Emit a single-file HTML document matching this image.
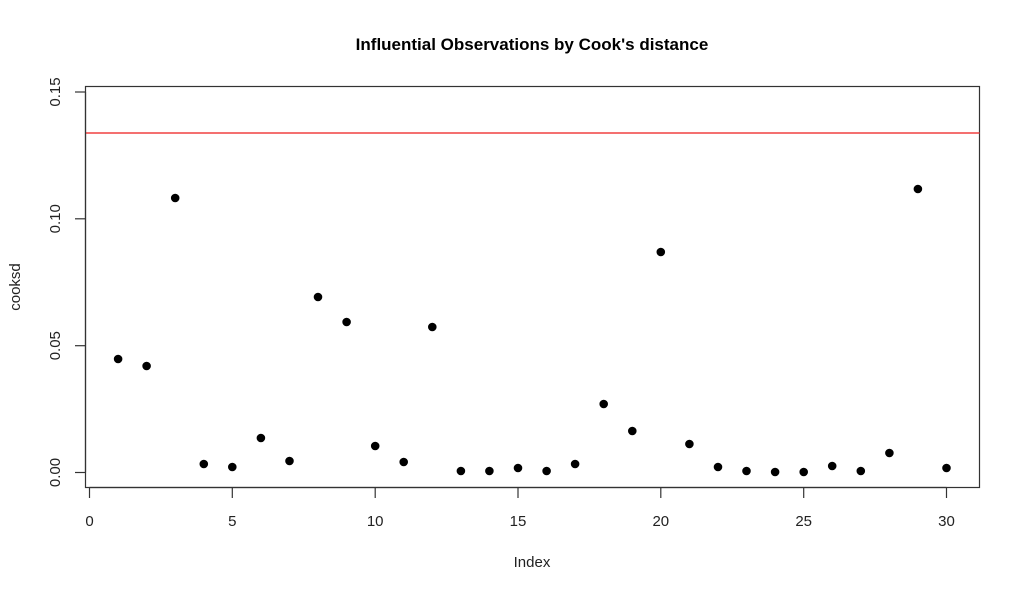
<!DOCTYPE html>
<html><head><meta charset="utf-8"><style>body{margin:0;background:#fff}</style></head><body>
<svg width="1024" height="594" xmlns="http://www.w3.org/2000/svg" font-family="Liberation Sans, sans-serif">
<rect width="1024" height="594" fill="#fff"/>
<text x="532" y="50" text-anchor="middle" font-size="17" font-weight="bold">Influential Observations by Cook's distance</text>
<rect x="85.5" y="86.5" width="894" height="401" fill="none" stroke="#333" stroke-width="1.2"/>
<line x1="85.5" y1="133" x2="979.5" y2="133" stroke="#f04040" stroke-width="1.5"/>
<g stroke="#333" stroke-width="1.2">
<line x1="89.5" y1="487.5" x2="946.5" y2="487.5"/>
<line x1="89.5" y1="487.5" x2="89.5" y2="498"/><line x1="232.3" y1="487.5" x2="232.3" y2="498"/><line x1="375.2" y1="487.5" x2="375.2" y2="498"/><line x1="518" y1="487.5" x2="518" y2="498"/><line x1="660.8" y1="487.5" x2="660.8" y2="498"/><line x1="803.7" y1="487.5" x2="803.7" y2="498"/><line x1="946.5" y1="487.5" x2="946.5" y2="498"/>
<line x1="85.5" y1="92" x2="85.5" y2="472.5"/>
<line x1="75" y1="472.5" x2="85.5" y2="472.5"/><line x1="75" y1="345.7" x2="85.5" y2="345.7"/><line x1="75" y1="218.8" x2="85.5" y2="218.8"/><line x1="75" y1="92" x2="85.5" y2="92"/>
</g>
<g font-size="15" text-anchor="middle" fill="#222">
<text x="89.5" y="526">0</text><text x="232.3" y="526">5</text><text x="375.2" y="526">10</text><text x="518" y="526">15</text><text x="660.8" y="526">20</text><text x="803.7" y="526">25</text><text x="946.5" y="526">30</text>
<text x="532" y="567">Index</text>
<text transform="translate(60,472.5) rotate(-90)">0.00</text>
<text transform="translate(60,345.7) rotate(-90)">0.05</text>
<text transform="translate(60,218.8) rotate(-90)">0.10</text>
<text transform="translate(60,92) rotate(-90)">0.15</text>
<text transform="translate(20,287) rotate(-90)">cooksd</text>
</g>
<g fill="#000">
<circle cx="118.1" cy="359" r="4.3"/><circle cx="146.6" cy="366" r="4.3"/><circle cx="175.2" cy="198" r="4.3"/><circle cx="203.8" cy="464" r="4.3"/><circle cx="232.3" cy="467" r="4.3"/><circle cx="260.9" cy="438" r="4.3"/><circle cx="289.5" cy="461" r="4.3"/><circle cx="318" cy="297" r="4.3"/><circle cx="346.6" cy="322" r="4.3"/><circle cx="375.2" cy="446" r="4.3"/><circle cx="403.7" cy="462" r="4.3"/><circle cx="432.3" cy="327" r="4.3"/><circle cx="460.9" cy="471" r="4.3"/><circle cx="489.4" cy="471" r="4.3"/><circle cx="518" cy="468" r="4.3"/><circle cx="546.6" cy="471" r="4.3"/><circle cx="575.1" cy="464" r="4.3"/><circle cx="603.7" cy="404" r="4.3"/><circle cx="632.3" cy="431" r="4.3"/><circle cx="660.8" cy="252" r="4.3"/><circle cx="689.4" cy="444" r="4.3"/><circle cx="718" cy="467" r="4.3"/><circle cx="746.5" cy="471" r="4.3"/><circle cx="775.1" cy="472" r="4.3"/><circle cx="803.7" cy="472" r="4.3"/><circle cx="832.2" cy="466" r="4.3"/><circle cx="860.8" cy="471" r="4.3"/><circle cx="889.4" cy="453" r="4.3"/><circle cx="917.9" cy="189" r="4.3"/><circle cx="946.5" cy="468" r="4.3"/>
</g>
</svg>
</body></html>
